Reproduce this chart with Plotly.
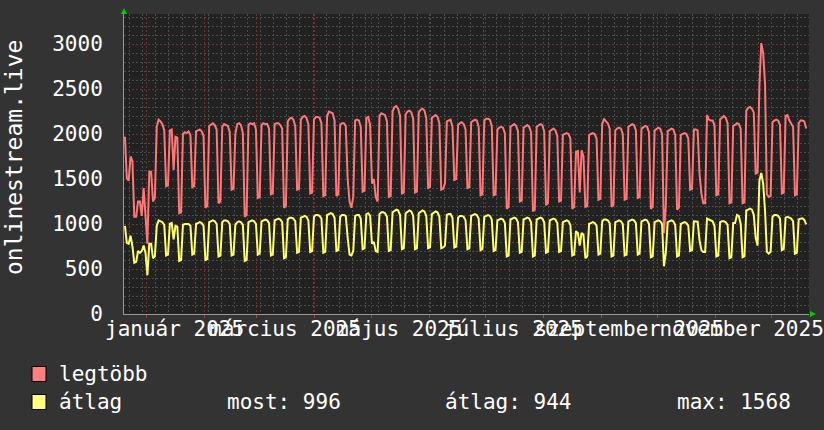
import plotly.graph_objects as go
from datetime import datetime, timedelta

# napi értékek 2024-12-20-tól, hetes sorokban (hétfő..vasárnap)
first_day = datetime(2024, 12, 20, 12)

legtobb_head = [1970, 1510, 1480]
legtobb_weeks = [
    [1750, 1700, 1080, 1080, 1250, 1250, 1090],
    [1400, 1080, 780, 1580, 1580, 1250, 1300],
    [2080, 2160, 2140, 2110, 2040, 1420, 1430],
    [2040, 2050, 1600, 1970, 1960, 1120, 1130],
    [2000, 2020, 2010, 2030, 1990, 1410, 1420],
    [2030, 2040, 2050, 2030, 1980, 1180, 1200],
    [2090, 2110, 2120, 2100, 2050, 1230, 1250],
    [2080, 2110, 2100, 2090, 2020, 1380, 1390],
    [2000, 2110, 2120, 2100, 2010, 1080, 1100],
    [2100, 2120, 2110, 2120, 2050, 1290, 1300],
    [2100, 2120, 2110, 2110, 2060, 1330, 1340],
    [2110, 2120, 2120, 2100, 2060, 1180, 1200],
    [2140, 2170, 2180, 2160, 2090, 1380, 1390],
    [2160, 2190, 2200, 2180, 2110, 1340, 1350],
    [2160, 2190, 2190, 2180, 2120, 1310, 1320],
    [2200, 2250, 2240, 2230, 2150, 1310, 1330],
    [2100, 2120, 2120, 2090, 1500, 1250, 1180],
    [1300, 2150, 2160, 2150, 2080, 1360, 1370],
    [2180, 2190, 2100, 1450, 1500, 1300, 1250],
    [2200, 2230, 2220, 2210, 2140, 1300, 1310],
    [2250, 2300, 2310, 2280, 2200, 1340, 1350],
    [2220, 2250, 2260, 2240, 2170, 1350, 1360],
    [2240, 2270, 2280, 2260, 2180, 1400, 1410],
    [2180, 2200, 2210, 2190, 2120, 1380, 1390],
    [1450, 2140, 2150, 2160, 2080, 1490, 1500],
    [2100, 2120, 2130, 2110, 2050, 1400, 1410],
    [2130, 2150, 2160, 2150, 2080, 1320, 1330],
    [2150, 2170, 2170, 2160, 2090, 1320, 1330],
    [2050, 2070, 2080, 2070, 2010, 1170, 1190],
    [2080, 2100, 2110, 2090, 2030, 1250, 1260],
    [2070, 2090, 2100, 2080, 2020, 1140, 1160],
    [2080, 2100, 2110, 2100, 2030, 1210, 1230],
    [2030, 2050, 2060, 2040, 1980, 1250, 1260],
    [1990, 2000, 2010, 2000, 1950, 1170, 1190],
    [1800, 1810, 1350, 1820, 1750, 1190, 1200],
    [1990, 2000, 2010, 2000, 1950, 1270, 1280],
    [2110, 2170, 2140, 2120, 2060, 1190, 1210],
    [2040, 2060, 2070, 2060, 2000, 1270, 1280],
    [2080, 2100, 2110, 2100, 2040, 1290, 1300],
    [2060, 2080, 2090, 2080, 2020, 1170, 1190],
    [2040, 2060, 2070, 2060, 2000, 900, 1200],
    [2030, 2050, 2060, 2050, 1990, 1160, 1180],
    [1990, 2000, 2010, 2000, 1950, 1380, 1390],
    [2050, 2050, 2040, 1560, 1340, 1230, 1230],
    [2210, 2160, 2150, 2150, 2100, 1320, 1330],
    [2160, 2180, 2200, 2180, 2120, 1230, 1240],
    [2090, 2100, 2120, 2110, 2060, 1230, 1240],
    [2260, 2290, 2300, 2280, 2240, 1560, 1570],
    [2530, 3010, 2900, 2560, 1330, 1300, 1310],
    [2130, 2150, 2160, 2150, 2100, 1340, 1350],
    [2200, 2210, 2150, 2120, 2080, 1320, 1330],
]
legtobb_tail = [2120, 2150, 2150, 2140, 2060]

atlag_head = [980, 790, 780]
atlag_weeks = [
    [870, 750, 570, 580, 700, 680, 700],
    [760, 680, 430, 780, 780, 620, 640],
    [980, 1040, 1030, 1020, 990, 650, 660],
    [1000, 1010, 830, 980, 970, 590, 600],
    [990, 1000, 1000, 1000, 980, 660, 670],
    [1000, 1010, 1020, 1010, 980, 600, 610],
    [1020, 1030, 1040, 1030, 1000, 640, 650],
    [1020, 1040, 1040, 1030, 1000, 650, 660],
    [990, 1020, 1030, 1020, 990, 590, 600],
    [1020, 1030, 1040, 1030, 1000, 660, 670],
    [1030, 1040, 1050, 1040, 1010, 650, 660],
    [1040, 1050, 1060, 1050, 1020, 620, 630],
    [1050, 1070, 1070, 1060, 1030, 680, 690],
    [1070, 1080, 1090, 1080, 1040, 690, 700],
    [1080, 1100, 1100, 1090, 1060, 680, 690],
    [1100, 1110, 1120, 1110, 1070, 700, 710],
    [1080, 1100, 1100, 1090, 850, 660, 650],
    [700, 1090, 1100, 1100, 1060, 720, 730],
    [1110, 1120, 1090, 780, 800, 700, 690],
    [1110, 1130, 1130, 1120, 1080, 700, 710],
    [1130, 1150, 1160, 1150, 1100, 720, 730],
    [1120, 1140, 1150, 1140, 1090, 720, 730],
    [1120, 1140, 1150, 1140, 1090, 730, 740],
    [1110, 1130, 1140, 1130, 1080, 730, 740],
    [760, 1100, 1110, 1110, 1070, 740, 750],
    [1070, 1090, 1090, 1080, 1040, 720, 730],
    [1090, 1100, 1110, 1100, 1060, 710, 720],
    [1080, 1090, 1100, 1090, 1050, 700, 710],
    [1040, 1050, 1060, 1050, 1010, 640, 650],
    [1050, 1060, 1070, 1060, 1020, 680, 690],
    [1050, 1060, 1070, 1060, 1020, 640, 650],
    [1050, 1060, 1070, 1060, 1020, 680, 690],
    [1040, 1050, 1060, 1050, 1010, 690, 700],
    [1020, 1030, 1040, 1030, 990, 650, 660],
    [920, 900, 760, 900, 880, 620, 640],
    [1000, 1010, 1020, 1010, 980, 660, 670],
    [1030, 1050, 1050, 1040, 1010, 640, 650],
    [1020, 1030, 1040, 1030, 1000, 650, 660],
    [1030, 1040, 1050, 1040, 1010, 660, 670],
    [1030, 1040, 1050, 1040, 1000, 630, 640],
    [1020, 1030, 1040, 1030, 1000, 530, 680],
    [1020, 1030, 1040, 1030, 990, 640, 650],
    [1000, 1010, 1020, 1010, 980, 700, 710],
    [1030, 1030, 1026, 820, 710, 690, 690],
    [1060, 1050, 1040, 1030, 980, 640, 650],
    [1020, 1030, 1030, 1020, 990, 620, 630],
    [1010, 1010, 1100, 1090, 1000, 630, 640],
    [1150, 1160, 1170, 1160, 1100, 850, 760],
    [1480, 1568, 1450, 1150, 690, 670, 690],
    [1080, 1100, 1100, 1090, 1060, 710, 720],
    [1070, 1080, 1070, 1060, 1030, 670, 680],
]
atlag_tail = [1050, 1060, 1063, 1045, 996]

month_starts = ["2025-%02d-01" % m for m in range(1, 13)]
label_dates = ["2025-01-16", "2025-03-16", "2025-05-16",
               "2025-07-16", "2025-09-16", "2025-11-15"]
label_texts = ["január 2025", "március 2025", "május 2025",
               "július 2025", "szeptember 2025", "november 2025"]
y_ticks = [0, 500, 1000, 1500, 2000, 2500, 3000]

legend_names = ["legtöbb", "átlag"]
legend_colors = ["#ff7f7f", "#ffff7f"]
legend_stats = ["most: 996", "átlag: 944", "max: 1568"]

legtobb = legtobb_head + [v for w in legtobb_weeks for v in w] + legtobb_tail
atlag = atlag_head + [v for w in atlag_weeks for v in w] + atlag_tail
days = [first_day + timedelta(days=i) for i in range(len(legtobb))]

FONT = "DejaVu Sans Mono"
W, H = 824, 430
L, R, T, B = 124, 15, 14, 116
PW, PH = W - L - R, H - T - B


def px(x):
    return (x - L) / PW


def py(y):
    return (H - B - y) / PH


fig = go.Figure()
fig.add_scatter(x=days, y=legtobb, mode="lines", name=legend_names[0],
                line=dict(color="#ff7777", width=2))
fig.add_scatter(x=days, y=atlag, mode="lines", name=legend_names[1],
                line=dict(color="#ffff66", width=2))

x_range = ["2024-12-20", "2025-12-21"]
fig.update_layout(
    width=W, height=H,
    margin=dict(l=L, r=R, t=T, b=B, pad=0),
    paper_bgcolor="#333333",
    plot_bgcolor="#222222",
    showlegend=False,
    font=dict(family=FONT, size=21, color="#ffffff"),
    xaxis=dict(
        type="date", range=x_range, automargin=False,
        tickmode="array", tickvals=month_starts, ticktext=[""] * 12,
        showgrid=True, gridcolor="#6e3030", griddash="2px,2px", gridwidth=1,
        ticks="outside", ticklen=3, tickcolor="#aa4444",
        minor=dict(dtick=7 * 86400000, tick0="2024-12-23", showgrid=True,
                   gridcolor="#4a4a4a", griddash="2px,2px", ticks=""),
        showline=True, linecolor="#999999", zeroline=False,
    ),
    xaxis2=dict(
        type="date", range=x_range, overlaying="x", anchor="y", side="bottom",
        automargin=False,
        tickmode="array", tickvals=label_dates, ticktext=label_texts,
        tickangle=0, showgrid=False, ticks="", showline=False,
        ticklabeloverflow="allow",
        tickfont=dict(family=FONT, size=21, color="#ffffff"),
    ),
    yaxis=dict(
        range=[0, 10000 / 3], tickmode="array", tickvals=y_ticks,
        automargin=False,
        showgrid=True, gridcolor="#6e3030", griddash="2px,2px",
        minor=dict(dtick=100, showgrid=True, gridcolor="#4a4a4a",
                   griddash="2px,2px"),
        ticks="", ticklabelstandoff=16, zeroline=False,
        showline=True, linecolor="#999999",
        tickfont=dict(family=FONT, size=21, color="#ffffff"),
    ),
)
fig.add_scatter(x=[], y=[], xaxis="x2", showlegend=False)

# függőleges tengelycím
fig.add_annotation(x=px(14), y=py(158), xref="paper", yref="paper",
                   text="onlinestream.live", textangle=-90, showarrow=False,
                   xanchor="center", yanchor="middle",
                   font=dict(family=FONT, size=23, color="#ffffff"))

# jelmagyarázat
for i, (name, col) in enumerate(zip(legend_names, legend_colors)):
    yc = 374 + 28 * i
    fig.add_shape(type="rect", xref="paper", yref="paper",
                  x0=px(32), x1=px(46), y0=py(yc - 7.5), y1=py(yc + 7.5),
                  fillcolor=col, line=dict(color="#000000", width=1))
    fig.add_annotation(x=px(57), y=py(yc), xref="paper", yref="paper",
                       text=name, showarrow=False, xanchor="left",
                       yanchor="middle")
for txt, x0 in zip(legend_stats, [225, 443, 675]):
    fig.add_annotation(x=px(x0), y=py(402), xref="paper", yref="paper",
                       text=txt, showarrow=False, xanchor="left",
                       yanchor="middle")

# zöld nyilak a tengelyek végén
green = "#00cc00"
fig.add_shape(type="path", xref="paper", yref="paper",
              path="M %f %f L %f %f L %f %f Z" % (px(121), py(14), px(127), py(14), px(124), py(8)),
              fillcolor=green, line=dict(color=green, width=0))
fig.add_shape(type="path", xref="paper", yref="paper",
              path="M %f %f L %f %f L %f %f Z" % (px(810), py(311), px(810), py(317), px(816), py(314)),
              fillcolor=green, line=dict(color=green, width=0))

# a böngésző alapértelmezett 8px-es margója nélkül
fig.write_html("out.html", config={"displayModeBar": False},
               post_script="document.body.style.margin='0';")
